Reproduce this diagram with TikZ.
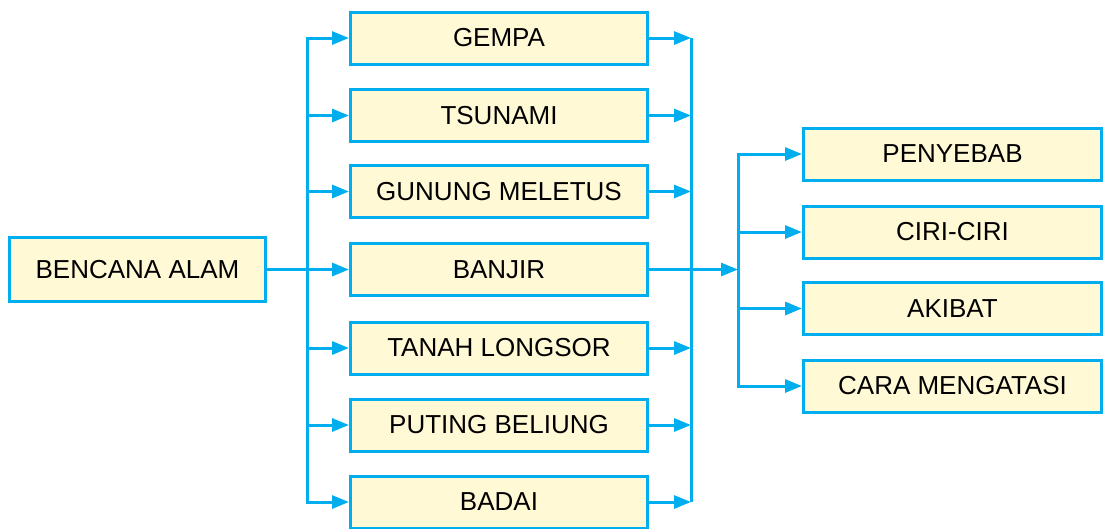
\documentclass[tikz,border=0pt]{standalone}
\usepackage{fontspec}
\setmainfont{Liberation Sans}
\usetikzlibrary{arrows.meta}
\definecolor{lc}{HTML}{00AEEF}
\definecolor{bf}{HTML}{FFF9D5}
\tikzset{
  box/.style={draw=lc, line width=3pt, fill=bf, minimum height=52pt, inner sep=0pt,
    font=\fontsize{26}{31}\selectfont, text=black},
  midbox/.style={box, minimum width=297pt},
  rbox/.style={box, minimum width=298pt},
  conn/.style={draw=lc, line width=3pt},
  arr/.style={conn, -{Triangle[length=17pt,width=13pt]}},
}
\begin{document}
\begin{tikzpicture}[x=1pt,y=-1pt]
\useasboundingbox (0,0) rectangle (1105,528);
% left node
\node[box, minimum width=256pt, minimum height=64pt] (L) at (137.5,269.5) {BENCANA ALAM};
% middle nodes
\node[midbox] (b1) at (499,38) {GEMPA};
\node[midbox] (b2) at (499,115.5) {TSUNAMI};
\node[midbox] (b3) at (499,191.5) {GUNUNG MELETUS};
\node[midbox] (b4) at (499,269.5) {BANJIR};
\node[midbox] (b5) at (499,348) {TANAH LONGSOR};
\node[midbox] (b6) at (499,425) {PUTING BELIUNG};
\node[midbox] (b7) at (499,502) {BADAI};
% right nodes
\node[rbox] (c1) at (952.5,154) {PENYEBAB};
\node[rbox] (c2) at (952.5,232) {CIRI-CIRI};
\node[rbox] (c3) at (952.5,308.5) {AKIBAT};
\node[rbox] (c4) at (952.5,386) {CARA MENGATASI};
% left trunk coordinates
\coordinate (t1) at (307,38);
\coordinate (t2) at (307,115.5);
\coordinate (t3) at (307,191.5);
\coordinate (t5) at (307,348);
\coordinate (t6) at (307,425);
\coordinate (t7) at (307,502);
% right trunk coordinates
\coordinate (r1) at (691,38);
\coordinate (r2) at (691,115.5);
\coordinate (r3) at (691,191.5);
\coordinate (r5) at (691,348);
\coordinate (r6) at (691,425);
\coordinate (r7) at (691,502);
\coordinate (s4) at (738,269.5);
\coordinate (s1) at (738,154);
\coordinate (s2) at (738,232);
\coordinate (s3) at (738,308.5);
\coordinate (s5) at (738,386);
% left connectors
\draw[arr] (L.east) -- (b4.west);
\draw[arr] (t7) |- (b1.west);
\draw[arr] (t1) |- (b7.west);
\foreach \i in {2,3,5,6} {\draw[arr] (t\i) -- (b\i.west);}
% right trunk
\draw[conn] (r1) -- (r7);
\foreach \i in {1,2,3,5,6,7} {\draw[arr] (b\i.east) -- (r\i);}
\draw[arr] (b4.east) -- (s4);
% second trunk
\draw[arr] (s5) |- (c1.west);
\draw[arr] (s1) |- (c4.west);
\draw[arr] (s2) -- (c2.west);
\draw[arr] (s3) -- (c3.west);
\end{tikzpicture}
\end{document}
